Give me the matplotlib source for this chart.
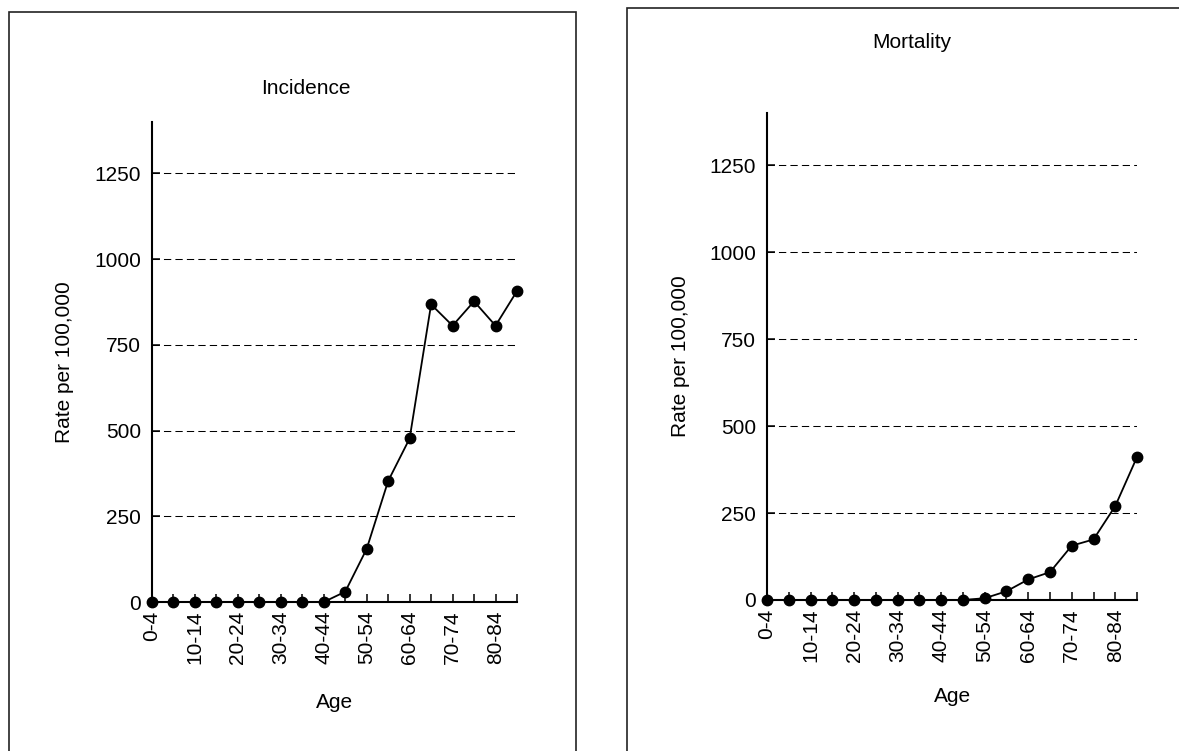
import matplotlib.pyplot as plt
from matplotlib.patches import Rectangle

plt.rcParams['font.family'] = ['Liberation Sans', 'DejaVu Sans']

# age groups and rates per 100,000
ages = ["0-4", "5-9", "10-14", "15-19", "20-24", "25-29", "30-34", "35-39",
        "40-44", "45-49", "50-54", "55-59", "60-64", "65-69", "70-74",
        "75-79", "80-84", "85+"]
incidence = [0, 0, 0, 0, 0, 0, 0, 0, 0, 30, 155, 353, 477, 868, 806, 877, 806, 907]
mortality = [0, 0, 0, 0, 0, 0, 0, 0, 0, 0, 5, 25, 59, 80, 156, 174, 270, 411]
yticks = [0, 250, 500, 750, 1000, 1250]

FS = 15

fig = plt.figure(figsize=(11.79, 7.51), dpi=100)

# panel frames, cut off at the bottom edge
fig.patches.append(Rectangle((0.0076, -0.05), 0.481, 1.034, transform=fig.transFigure,
                             fill=False, edgecolor='#222222', linewidth=1.2))
fig.patches.append(Rectangle((0.5318, -0.05), 0.52, 1.0387, transform=fig.transFigure,
                             fill=False, edgecolor='#222222', linewidth=1.2))


def panel(rect, values, title, title_xy, ylab_x, age_y):
    ax = fig.add_axes(rect)
    x = list(range(len(ages)))
    for v in yticks[1:]:
        ax.axhline(v, color='black', linewidth=0.75, linestyle=(0, (7, 4)), zorder=1)
    ax.plot(x, values, color='black', linewidth=1.3, marker='o', markersize=7.5,
            clip_on=False, zorder=3)
    ax.set_xlim(0, len(ages) - 1)
    ax.set_ylim(0, 1400)
    ax.set_yticks(yticks)
    ax.set_yticklabels([str(v) for v in yticks], fontsize=FS)
    ax.set_xticks(x)
    ax.set_xticklabels([a if i % 2 == 0 else "" for i, a in enumerate(ages)],
                       rotation=90, fontsize=FS)
    ax.tick_params(axis='both', direction='in', length=6, width=1.1, color='black')
    ax.tick_params(axis='y', pad=8)
    ax.tick_params(axis='x', pad=6)
    for s in ['top', 'right']:
        ax.spines[s].set_visible(False)
    for s in ['left', 'bottom']:
        ax.spines[s].set_linewidth(1.5)
    fig.text(title_xy[0], title_xy[1], title, fontsize=FS, ha='center', va='center')
    fig.text(ylab_x, rect[1] + rect[3] * 0.5, "Rate per 100,000", fontsize=FS,
             rotation=90, ha='center', va='center')
    fig.text(rect[0] + rect[2] * 0.5, age_y, "Age", fontsize=FS, ha='center', va='center')
    return ax


panel([0.1289, 0.1984, 0.3096, 0.6391], incidence, "Incidence",
      (306 / 1179, 1 - 88 / 751), 65 / 1179, 1 - 703 / 751)
panel([0.6506, 0.2011, 0.3138, 0.6485], mortality, "Mortality",
      (912 / 1179, 1 - 43 / 751), 680 / 1179, 1 - 697 / 751)

fig.savefig("out.png", dpi=100)
